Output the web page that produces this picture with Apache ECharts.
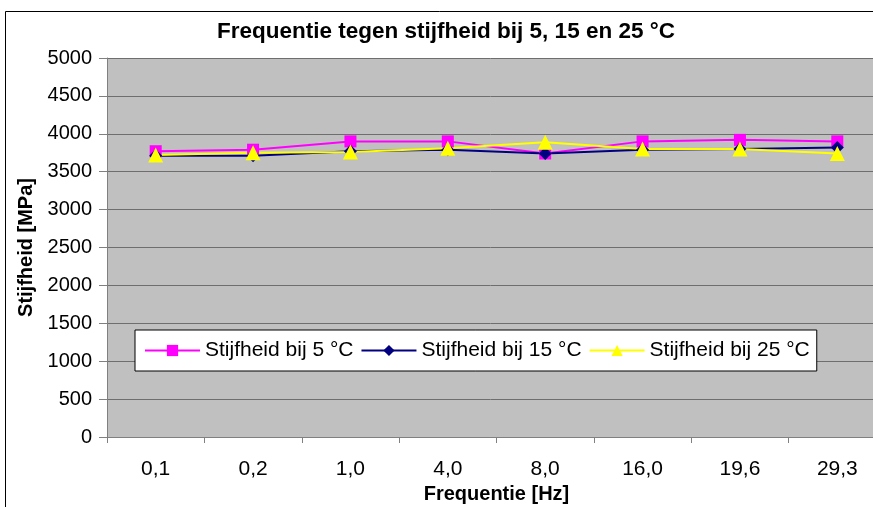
<!DOCTYPE html>
<html>
<head>
<meta charset="utf-8">
<script src="https://cdn.jsdelivr.net/npm/echarts@6/dist/echarts.min.js"></script>
<style>
html,body{margin:0;padding:0;background:#fff;}
#c{width:873px;height:507px;}
</style>
</head>
<body>
<div id="c"></div>
<script>
var categories = ['0,1', '0,2', '1,0', '4,0', '8,0', '16,0', '19,6', '29,3'];
var stijf5 = [3770, 3790, 3900, 3900, 3740, 3900, 3920, 3900];
var stijf15 = [3710, 3710, 3770, 3790, 3740, 3790, 3800, 3820];
var stijf25 = [3720, 3750, 3760, 3810, 3890, 3800, 3800, 3740];
var seriesNames = ['Stijfheid bij 5 °C', 'Stijfheid bij 15 °C', 'Stijfheid bij 25 °C'];
var titleText = 'Frequentie tegen stijfheid bij 5, 15 en 25 °C';
var xName = 'Frequentie [Hz]';
var yName = 'Stijfheid [MPa]';

var FONT = '"Liberation Sans", Arial, sans-serif';
var chart = echarts.init(document.getElementById('c'), null, {renderer: 'canvas'});

function mkSeries(name, data, color, symbol, size) {
  return {
    name: name, type: 'line', data: data,
    symbol: symbol, symbolSize: size, showSymbol: true,
    lineStyle: {color: color, width: 2},
    itemStyle: {color: color, borderWidth: 0},
    emphasis: {disabled: true},
    animation: false
  };
}

chart.setOption({
  animation: false,
  backgroundColor: '#ffffff',
  graphic: [{
    type: 'rect', silent: true, z: -10,
    shape: {x: 5.5, y: 11.5, width: 900, height: 520},
    style: {fill: '#ffffff', stroke: '#000000', lineWidth: 1}
  }],
  title: {
    text: titleText, left: 446, top: 20, padding: 0, textAlign: 'center',
    textStyle: {fontFamily: FONT, fontSize: 22.5, fontWeight: 'bold', color: '#000'}
  },
  legend: {
    data: seriesNames,
    left: 135, top: 330, padding: [10, 7, 10, 9],
    itemGap: 7, itemWidth: 55, itemHeight: 14,
    backgroundColor: '#ffffff', borderColor: '#000000', borderWidth: 1, borderRadius: 0,
    textStyle: {fontFamily: FONT, fontSize: 21, color: '#000'},
    selectedMode: false
  },
  grid: {left: 107, width: 779, top: 58, bottom: 70, show: true, backgroundColor: '#c0c0c0', borderWidth: 0,
    outerBoundsMode: 'none', containLabel: false},
  xAxis: {
    type: 'category', data: categories, boundaryGap: true,
    name: xName, nameLocation: 'middle', nameGap: 43,
    nameTextStyle: {fontFamily: FONT, fontSize: 20, fontWeight: 'bold', color: '#000'},
    axisLine: {lineStyle: {color: '#808080', width: 1}},
    axisTick: {show: true, length: 6, lineStyle: {color: '#808080'}},
    axisLabel: {fontFamily: FONT, fontSize: 21, color: '#000', margin: 22, interval: 0},
    splitLine: {show: false}
  },
  yAxis: {
    type: 'value', min: 0, max: 5000, interval: 500,
    name: yName, nameLocation: 'middle', nameGap: 65, nameRotate: 90,
    nameTextStyle: {fontFamily: FONT, fontSize: 20, fontWeight: 'bold', color: '#000'},
    axisLine: {show: true, lineStyle: {color: '#808080', width: 1}},
    axisTick: {show: true, length: 8, lineStyle: {color: '#808080'}},
    axisLabel: {fontFamily: FONT, fontSize: 20, color: '#000', margin: 15,
      formatter: function (v) { return String(v); }},
    splitLine: {show: true, lineStyle: {color: '#6e6e6e', width: 1}}
  },
  series: [
    mkSeries(seriesNames[0], stijf5, '#ff00ff', 'rect', 12),
    mkSeries(seriesNames[1], stijf15, '#000080', 'diamond', 13),
    mkSeries(seriesNames[2], stijf25, '#ffff00', 'triangle', 15)
  ]
});
</script>
</body>
</html>
